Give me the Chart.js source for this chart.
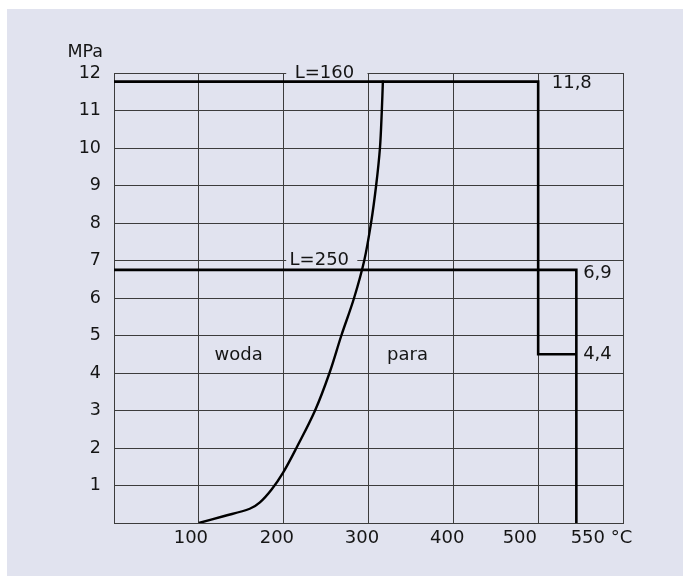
<!DOCTYPE html>
<html>
<head>
<meta charset="utf-8">
<script src="https://cdn.jsdelivr.net/npm/chart.js@4/dist/chart.umd.min.js"></script>
<style>
  html, body { margin: 0; padding: 0; background: #ffffff; }
  canvas { display: block; }
</style>
</head>
<body>
<canvas id="c" width="683" height="576"></canvas>
<script>
// ---- data ----
const xGrid = [0, 100, 200, 300, 400, 500, 600];
const xTickLabels = ['100', '200', '300', '400', '500', '550 °C'];
const xTickLabelAt = [90.6, 192, 292.4, 392.8, 478.4, 574.6];
const yTicks = [1, 2, 3, 4, 5, 6, 7, 8, 9, 10, 11, 12];
const yUnit = 'MPa';

// saturation curve (temperature °C, pressure MPa)
const curveT = [100, 129, 160, 172, 186, 199.5, 215, 237, 254, 268, 283, 295, 303, 309, 313.5, 315.7, 317];
const curveP = [0, 0.18, 0.38, 0.55, 0.9, 1.35, 2.0, 3.0, 4.0, 5.0, 6.0, 7.0, 8.0, 9.0, 10.0, 11.0, 11.8];

// L=160 limit path
const l160T = [0, 500, 500, 545];
const l160P = [11.77, 11.77, 4.5, 4.5];
// L=250 limit path
const l250T = [0, 545, 545];
const l250P = [6.75, 6.75, 0];

// text annotations [text, x, y, align]
const labels = [
  ['11,8', 516, 11.72, 'left'],
  ['6,9', 553, 6.66, 'left'],
  ['4,4', 553, 4.5, 'left'],
  ['woda', 147, 4.48, 'center'],
  ['para', 346, 4.48, 'center']
];
// line labels sitting in a gap of a grid line [text, centerX, y, gapFrom, gapTo]
const lineLabels = [
  ['L=160', 248, 12, 203, 300],
  ['L=250', 242, 7, 203, 288]
];

const toPts = (xs, ys) => xs.map((x, i) => ({ x: x, y: ys[i] }));

const FONT = '"DejaVu Sans", Verdana, sans-serif';
const BG = '#e1e3ef';
const TXT = '#151515';
const GRID = '#3c3c3c';

const bgPlugin = {
  id: 'bg',
  beforeDraw(chart) {
    const ctx = chart.ctx;
    ctx.save();
    ctx.fillStyle = '#ffffff';
    ctx.fillRect(0, 0, chart.width, chart.height);
    ctx.fillStyle = BG;
    ctx.fillRect(7, 9, chart.width - 7, chart.height - 9);
    ctx.restore();
  }
};

const textPlugin = {
  id: 'texts',
  beforeDatasetsDraw(chart) {
    const ctx = chart.ctx;
    const xs = chart.scales.x, ys = chart.scales.y;
    ctx.save();
    ctx.font = '18px ' + FONT;
    ctx.textBaseline = 'middle';
    lineLabels.forEach(([t, cx, y, g0, g1]) => {
      const py = ys.getPixelForValue(y);
      const x0 = xs.getPixelForValue(g0), x1 = xs.getPixelForValue(g1);
      ctx.fillStyle = BG;
      ctx.fillRect(x0, py - 2.5, x1 - x0 - 1, 5);
      ctx.fillStyle = TXT;
      ctx.textAlign = 'center';
      ctx.fillText(t, xs.getPixelForValue(cx), py);
    });
    // MPa unit title
    ctx.font = '17.5px ' + FONT;
    ctx.textAlign = 'right';
    ctx.fillStyle = TXT;
    ctx.fillText(yUnit, chart.chartArea.left - 11, ys.getPixelForValue(12) - 21);
    ctx.restore();
  },
  afterDatasetsDraw(chart) {
    const ctx = chart.ctx;
    const xs = chart.scales.x, ys = chart.scales.y;
    ctx.save();
    ctx.font = '18px ' + FONT;
    ctx.textBaseline = 'middle';
    ctx.fillStyle = TXT;
    labels.forEach(([t, x, y, al]) => {
      ctx.textAlign = al;
      ctx.fillText(t, xs.getPixelForValue(x), ys.getPixelForValue(y));
    });
    ctx.restore();
  }
};

const lineStyle = {
  borderColor: '#000000',
  borderWidth: 2.6,
  pointRadius: 0,
  fill: false,
  showLine: true,
  tension: 0
};

new Chart(document.getElementById('c'), {
  type: 'scatter',
  data: {
    datasets: [
      Object.assign({}, lineStyle, { data: toPts(l160T, l160P) }),
      Object.assign({}, lineStyle, { data: toPts(l250T, l250P) }),
      Object.assign({}, lineStyle, { data: toPts(curveT, curveP), borderWidth: 2.4, tension: 0.35 })
    ]
  },
  options: {
    responsive: false,
    animation: false,
    devicePixelRatio: 1,
    layout: { padding: { top: 73, right: 60, left: 0, bottom: 0 } },
    plugins: { legend: { display: false }, tooltip: { enabled: false } },
    scales: {
      x: {
        type: 'linear',
        position: 'bottom',
        min: 0, max: 600,
        afterBuildTicks(s) { s.ticks = xGrid.map(v => ({ value: v })); },
        afterFit(s) { s.height = 0; },
        grid: { color: GRID, lineWidth: 1, drawTicks: false },
        border: { color: GRID, width: 1 },
        ticks: { display: false }
      },
      xl: {
        type: 'linear',
        position: 'bottom',
        min: 0, max: 600,
        afterBuildTicks(s) { s.ticks = xTickLabelAt.map(v => ({ value: v })); },
        afterFit(s) { s.height = 53; },
        grid: { display: false, drawTicks: false },
        border: { display: false },
        ticks: {
          padding: 5,
          color: TXT,
          font: { family: FONT, size: 18 },
          maxRotation: 0,
          autoSkip: false,
          callback: (v) => { const i = xTickLabelAt.indexOf(v); return i >= 0 ? xTickLabels[i] : ''; }
        }
      },
      y: {
        type: 'linear',
        min: 0, max: 12,
        afterBuildTicks(s) { s.ticks = [0].concat(yTicks).map(v => ({ value: v })); },
        afterFit(s) { s.width = 114; },
        grid: { color: GRID, lineWidth: 1, drawTicks: false },
        border: { color: GRID, width: 1 },
        ticks: {
          padding: 13,
          color: TXT,
          font: { family: FONT, size: 17.5 },
          autoSkip: false,
          callback: (v) => (v === 0 ? '' : String(v))
        }
      }
    }
  },
  plugins: [bgPlugin, textPlugin]
});
</script>
</body>
</html>
